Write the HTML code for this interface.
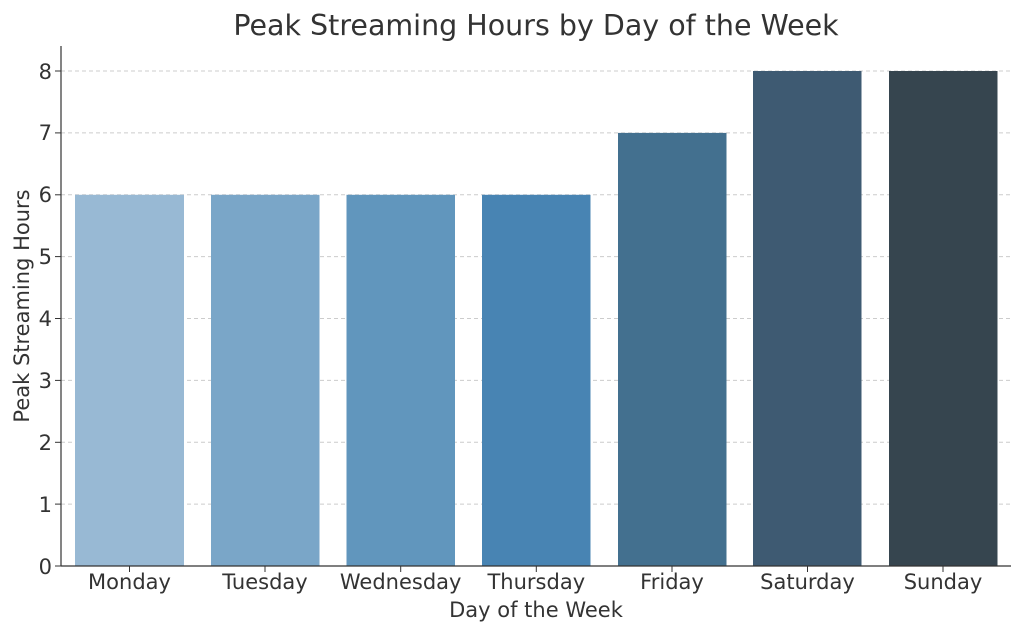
<!DOCTYPE html>
<html><head><meta charset="utf-8"><style>
html,body{margin:0;padding:0;background:#fff;}
svg{display:block;font-family:"DejaVu Sans","Liberation Sans",sans-serif;}
</style></head><body>
<svg width="1024" height="635" viewBox="0 0 1024 635" xmlns="http://www.w3.org/2000/svg">
<rect width="1024" height="635" fill="#fff"/>
<text x="536" y="35" font-size="28.5" fill="#333" text-anchor="middle">Peak Streaming Hours by Day of the Week</text>
<g stroke="#ccc" stroke-width="1" stroke-dasharray="4,3">
<line x1="61" x2="1011" y1="504.1" y2="504.1"/>
<line x1="61" x2="1011" y1="442.3" y2="442.3"/>
<line x1="61" x2="1011" y1="380.4" y2="380.4"/>
<line x1="61" x2="1011" y1="318.5" y2="318.5"/>
<line x1="61" x2="1011" y1="256.6" y2="256.6"/>
<line x1="61" x2="1011" y1="194.8" y2="194.8"/>
<line x1="61" x2="1011" y1="132.9" y2="132.9"/>
<line x1="61" x2="1011" y1="71" y2="71"/>
</g>
<rect x="75" y="194.8" width="109" height="371.2" fill="#98b9d4"/>
<rect x="211" y="194.8" width="108.5" height="371.2" fill="#7aa6c8"/>
<rect x="346.5" y="194.8" width="108.5" height="371.2" fill="#6196bd"/>
<rect x="482" y="194.8" width="108.5" height="371.2" fill="#4884b3"/>
<rect x="618" y="132.9" width="108.5" height="433.1" fill="#43708f"/>
<rect x="753" y="71" width="108.5" height="495" fill="#3e5a72"/>
<rect x="889" y="71" width="108.5" height="495" fill="#36454f"/>
<line x1="61" x2="61" y1="46" y2="566" stroke="#333" stroke-width="1.2"/>
<line x1="61" x2="1011" y1="566" y2="566" stroke="#333" stroke-width="1.2"/>
<g stroke="#333" stroke-width="1">
<line x1="55" x2="61" y1="566" y2="566"/><line x1="55" x2="61" y1="504.1" y2="504.1"/><line x1="55" x2="61" y1="442.3" y2="442.3"/><line x1="55" x2="61" y1="380.4" y2="380.4"/><line x1="55" x2="61" y1="318.5" y2="318.5"/><line x1="55" x2="61" y1="256.6" y2="256.6"/><line x1="55" x2="61" y1="194.8" y2="194.8"/><line x1="55" x2="61" y1="132.9" y2="132.9"/><line x1="55" x2="61" y1="71" y2="71"/>
<line x1="129.5" x2="129.5" y1="566" y2="572"/><line x1="265" x2="265" y1="566" y2="572"/><line x1="400.7" x2="400.7" y1="566" y2="572"/><line x1="536.3" x2="536.3" y1="566" y2="572"/><line x1="672" x2="672" y1="566" y2="572"/><line x1="807.5" x2="807.5" y1="566" y2="572"/><line x1="943" x2="943" y1="566" y2="572"/>
</g>
<g font-size="21" fill="#333" text-anchor="end">
<text x="52" y="574">0</text><text x="52" y="512">1</text><text x="52" y="450">2</text><text x="52" y="388">3</text><text x="52" y="326">4</text><text x="52" y="264">5</text><text x="52" y="202">6</text><text x="52" y="140">7</text><text x="52" y="79">8</text>
</g>
<g font-size="21" fill="#333" text-anchor="middle">
<text x="129.5" y="589">Monday</text><text x="265" y="589">Tuesday</text><text x="400.7" y="589">Wednesday</text><text x="536.3" y="589">Thursday</text><text x="672" y="589">Friday</text><text x="807.5" y="589">Saturday</text><text x="943" y="589">Sunday</text>
</g>
<text x="536" y="617" font-size="21" fill="#333" text-anchor="middle">Day of the Week</text>
<text transform="translate(29,306) rotate(-90)" font-size="21" fill="#333" text-anchor="middle">Peak Streaming Hours</text>
</svg>
</body></html>
